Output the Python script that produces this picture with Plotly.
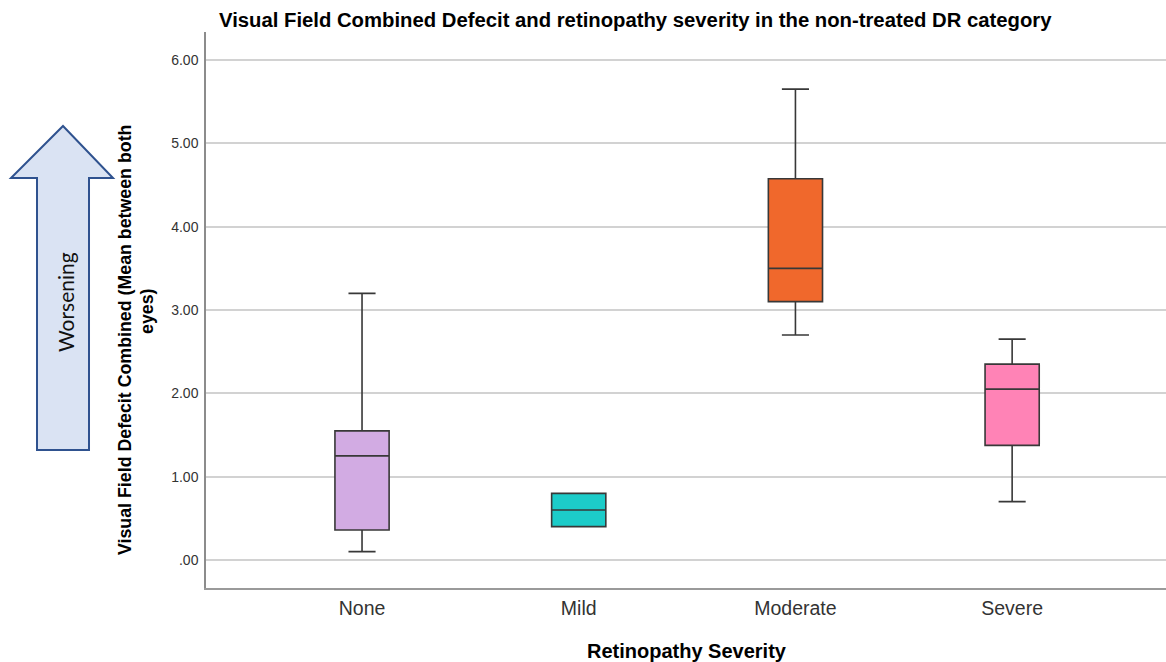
import plotly.graph_objects as go

# Box-plot summary per retinopathy severity group
categories = ["None", "Mild", "Moderate", "Severe"]
lower_whisker = [0.10, 0.40, 2.70, 0.70]
q1_values = [0.36, 0.40, 3.10, 1.375]
medians = [1.25, 0.60, 3.50, 2.05]
q3_values = [1.55, 0.80, 4.575, 2.35]
upper_whisker = [3.20, 0.80, 5.65, 2.65]
fill_colors = ["#D2ABE3", "#1CCCC9", "#F0682C", "#FF83B6"]

y_tick_values = [0, 1, 2, 3, 4, 5, 6]
y_tick_labels = [".00", "1.00", "2.00", "3.00", "4.00", "5.00", "6.00"]

# Page / plot-area geometry (pixels)
FIG_W, FIG_H = 1166, 662
L, R, T, B = 206, 1166, 32, 588
W, H = R - L, B - T


def px(x):
    return (x - L) / W


def py(y):
    return (B - y) / H


fig = go.Figure()
for i, cat in enumerate(categories):
    fig.add_trace(go.Box(
        x=[cat],
        q1=[q1_values[i]],
        median=[medians[i]],
        q3=[q3_values[i]],
        lowerfence=[lower_whisker[i]],
        upperfence=[upper_whisker[i]],
        width=0.25,
        whiskerwidth=0.5,
        fillcolor=fill_colors[i],
        line=dict(color="#383838", width=1.6),
        showlegend=False,
        boxpoints=False,
    ))

# Upward "Worsening" arrow beside the y axis
arrow_pts = [(63, 126), (113, 178), (89, 178), (89, 450), (37, 450), (37, 178), (11, 178)]
path = "M " + " L ".join(f"{px(x):.5f},{py(y):.5f}" for x, y in arrow_pts) + " Z"
fig.add_shape(type="path", path=path, xref="paper", yref="paper",
              line=dict(color="#2F528F", width=2), fillcolor="#DAE3F3", layer="above")

annotations = [
    dict(text="Worsening", x=px(65), y=py(302), textangle=-90,
         font=dict(family="Lato", size=21, color="#111111")),
    dict(text="<b>Visual Field Defecit Combined (Mean between both</b>", x=px(125), y=py(340),
         textangle=-90, font=dict(family="Liberation Sans", size=17.8, color="#000000")),
    dict(text="<b>eyes)</b>", x=px(147), y=py(311),
         textangle=-90, font=dict(family="Liberation Sans", size=17.8, color="#000000")),
    dict(text="<b>Retinopathy Severity</b>", x=px(687), y=py(651),
         font=dict(family="Liberation Sans", size=20, color="#000000")),
    dict(text="<b>Visual Field Combined Defecit and retinopathy severity in the non-treated DR category</b>",
         x=px(635), y=py(20), font=dict(family="Liberation Sans", size=20.3, color="#000000")),
]
for a in annotations:
    a.update(xref="paper", yref="paper", showarrow=False, xanchor="center", yanchor="middle")

fig.update_layout(
    width=FIG_W, height=FIG_H,
    margin=dict(l=L, r=FIG_W - R, t=T, b=FIG_H - B, pad=0),
    paper_bgcolor="white", plot_bgcolor="white",
    annotations=annotations,
    font=dict(family="Liberation Sans", color="#333333"),
)
fig.update_xaxes(
    type="category", categoryorder="array", categoryarray=categories,
    range=[-0.72, 3.71],
    showgrid=False, zeroline=False,
    showline=True, linecolor="#9A9A9A", linewidth=2,
    ticks="", ticklabelstandoff=2,
    tickfont=dict(family="Liberation Sans", size=19.5, color="#333333"),
)
fig.update_yaxes(
    range=[-0.336, 6.336],
    tickvals=y_tick_values, ticktext=y_tick_labels,
    showgrid=True, gridcolor="#D2D2D2", gridwidth=1.5,
    zeroline=False,
    showline=True, linecolor="#8C8C8C", linewidth=1.5,
    ticks="", ticklabelstandoff=3,
    tickfont=dict(family="Liberation Sans", size=14, color="#333333"),
)

fig.write_html("out.html")
